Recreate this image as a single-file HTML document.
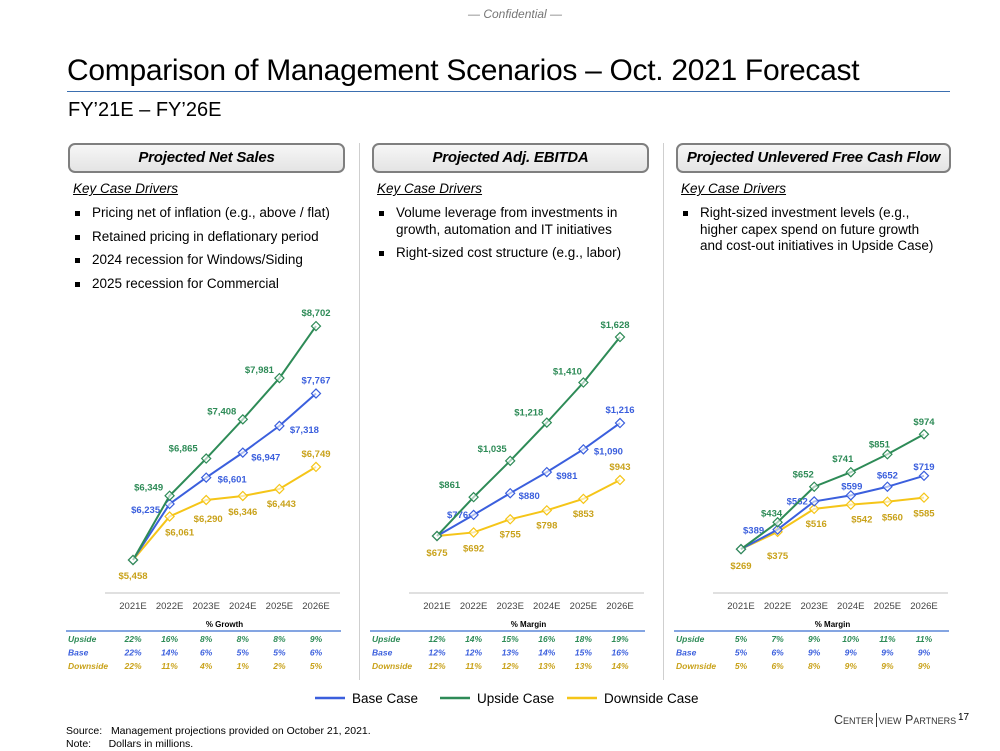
<!DOCTYPE html>
<html><head><meta charset="utf-8">
<style>
*{margin:0;padding:0;box-sizing:border-box}
body{width:1000px;height:750px;background:#fff;position:relative;overflow:hidden;font-family:"Liberation Sans",sans-serif;color:#000}
.abs{position:absolute}
.hdr{position:absolute;top:143px;height:30px;border:2px solid #7f7f7f;border-radius:7px;background:linear-gradient(#f6f6f6,#e4e4e4);font-weight:bold;font-style:italic;font-size:15px;text-align:center;line-height:26px;white-space:nowrap;letter-spacing:-0.2px}
.kcd{position:absolute;top:181px;font-size:13.5px;font-style:italic;text-decoration:underline}
ul{position:absolute;list-style:none;font-size:13.5px;line-height:16.5px}
ul li{position:relative;padding-left:19px;margin-bottom:7px}
ul li:before{content:"";position:absolute;left:2px;top:6px;width:5px;height:5px;background:#000}
.div{position:absolute;top:143px;width:1px;height:537px;background:#cfcfcf}
</style></head><body>
<div class="abs" style="left:468px;top:7px;font-size:12px;font-style:italic;color:#777">— Confidential —</div>
<div class="abs" style="left:67px;top:54px;font-size:30px;letter-spacing:-0.3px">Comparison of Management Scenarios – Oct. 2021 Forecast</div>
<div class="abs" style="left:67px;top:91px;width:883px;height:1px;background:#3b6fb0"></div>
<div class="abs" style="left:68px;top:99px;font-size:20px">FY’21E – FY’26E</div>

<div class="hdr" style="left:68px;width:277px">Projected Net Sales</div>
<div class="hdr" style="left:372px;width:277px">Projected Adj. EBITDA</div>
<div class="hdr" style="left:676px;width:275px">Projected Unlevered Free Cash Flow</div>
<div class="div" style="left:359px"></div>
<div class="div" style="left:663px"></div>

<div class="kcd" style="left:73px">Key Case Drivers</div>
<ul style="left:73px;top:205px;width:285px">
<li>Pricing net of inflation (e.g., above / flat)</li>
<li>Retained pricing in deflationary period</li>
<li>2024 recession for Windows/Siding</li>
<li>2025 recession for Commercial</li></ul>
<div class="kcd" style="left:377px">Key Case Drivers</div>
<ul style="left:377px;top:205px;width:270px">
<li>Volume leverage from investments in growth, automation and IT initiatives</li>
<li>Right-sized cost structure (e.g., labor)</li></ul>
<div class="kcd" style="left:681px">Key Case Drivers</div>
<ul style="left:681px;top:205px;width:262px">
<li>Right-sized investment levels (e.g., higher capex spend on future growth and cost-out initiatives in Upside Case)</li></ul>

<svg id="charts" class="abs" style="left:0;top:0" width="1000" height="750"></svg>

<div class="abs" style="left:66px;top:725px;font-size:10.5px;line-height:13px">Source:&nbsp;&nbsp;&nbsp;Management projections provided on October 21, 2021.<br>Note:&nbsp;&nbsp;&nbsp;&nbsp;&nbsp;&nbsp;Dollars in millions.</div>
<div class="abs" style="left:834px;top:713px;font-size:12.5px;font-variant:small-caps;color:#333;white-space:nowrap">Center<span style="border-left:1.5px solid #333;margin:0 2px"></span>view Partners</div>
<div class="abs" style="left:958px;top:712px;font-size:10px">17</div>

<script>
const years=["2021E","2022E","2023E","2024E","2025E","2026E"];
const salesBase=[5458,6235,6601,6947,7318,7767];
const salesUp=[5458,6349,6865,7408,7981,8702];
const salesDown=[5458,6061,6290,6346,6443,6749];
const ebitdaBase=[675,776,880,981,1090,1216];
const ebitdaUp=[675,861,1035,1218,1410,1628];
const ebitdaDown=[675,692,755,798,853,943];
const fcfBase=[269,389,562,599,652,719];
const fcfUp=[269,434,652,741,851,974];
const fcfDown=[269,375,516,542,560,585];
const growthUp=["22%","16%","8%","8%","8%","9%"];
const growthBase=["22%","14%","6%","5%","5%","6%"];
const growthDown=["22%","11%","4%","1%","2%","5%"];
const ebitdaMarginUp=["12%","14%","15%","16%","18%","19%"];
const ebitdaMarginBase=["12%","12%","13%","14%","15%","16%"];
const ebitdaMarginDown=["12%","11%","12%","13%","13%","14%"];
const fcfMarginUp=["5%","7%","9%","10%","11%","11%"];
const fcfMarginBase=["5%","6%","9%","9%","9%","9%"];
const fcfMarginDown=["5%","6%","8%","9%","9%","9%"];

const C={base:"#3b5fdd",up:"#2e8b57",down:"#f5c518",downTxt:"#c9a21a"};
const svg=document.getElementById('charts');
const NS="http://www.w3.org/2000/svg";
function mk(t,a,p){const e=document.createElementNS(NS,t);for(const k in a)e.setAttribute(k,a[k]);(p||svg).appendChild(e);return e;}
function fmt(v){return "$"+v.toLocaleString("en-US");}

const charts=[
 {name:"net-sales",x0:133,min:5000,ppu:0.0721,base:salesBase,up:salesUp,down:salesDown,title:"% Growth",tu:growthUp,tb:growthBase,td:growthDown,
  offB:[[0,0],[-24,9],[26,5],[23,8],[25,7],[0,-10]],offU:[[0,0],[-21,-5],[-23,-7],[-21,-5],[-20,-5],[0,-10]],offD:[[0,19],[10,19],[2,22],[0,19],[2,18],[0,-10]]},
 {name:"ebitda",x0:437,min:402,ppu:0.2088,base:ebitdaBase,up:ebitdaUp,down:ebitdaDown,title:"% Margin",tu:ebitdaMarginUp,tb:ebitdaMarginBase,td:ebitdaMarginDown,
  offB:[[0,0],[-16,3],[19,6],[20,7],[25,5],[0,-10]],offU:[[0,0],[-24,-9],[-18,-9],[-18,-7],[-16,-8],[-5,-9]],offD:[[0,20],[0,19],[0,18],[0,18],[0,18],[0,-10]]},
 {name:"fcf",x0:741,min:0,ppu:0.163,base:fcfBase,up:fcfUp,down:fcfDown,title:"% Margin",tu:fcfMarginUp,tb:fcfMarginBase,td:fcfMarginDown,
  offB:[[0,0],[-24,4],[-17,3],[1,-6],[0,-8],[0,-6]],offU:[[0,0],[-6,-6],[-11,-9],[-8,-10],[-8,-7],[0,-9]],offD:[[0,20],[0,27],[2,18],[11,18],[5,19],[0,19]]}
];
const step=36.6, yb=593;
charts.forEach((c,ci)=>{
  const X=i=>c.x0+i*step, Y=v=>yb-(v-c.min)*c.ppu;
  const ax=mk('line',{x1:c.x0-28,x2:c.x0+5*step+24,y1:593,y2:593,stroke:"#d6d6d6","stroke-width":1.5});
  
  years.forEach((y,i)=>{const t=mk('text',{x:X(i),y:609,"text-anchor":"middle","font-size":9.5,fill:"#444"});t.textContent=y;
    });
  [["down",c.down,C.down,C.downTxt,c.offD],["base",c.base,C.base,C.base,c.offB],["up",c.up,C.up,C.up,c.offU]].forEach(([k,vals,col,tc,off])=>{
    const pl=mk('polyline',{points:vals.map((v,i)=>X(i)+","+Y(v)).join(" "),fill:"none",stroke:col,"stroke-width":2});
    
    vals.forEach((v,i)=>{
      const d=mk('rect',{x:X(i)-3.2,y:Y(v)-3.2,width:6.4,height:6.4,fill:"#fff","fill-opacity":0.6,stroke:col,"stroke-width":1.2,transform:`rotate(45 ${X(i)} ${Y(v)})`});
      
      if(i===0&&k!=="down")return;
      const t=mk('text',{x:X(i)+off[i][0],y:Y(v)+off[i][1],"text-anchor":"middle","font-size":9.5,"font-weight":"bold",fill:tc});
      t.textContent=fmt(v);
      
    });
  });
  const tx=c.x0-67;
  const h=mk('text',{x:c.x0+2.5*step,y:627,"text-anchor":"middle","font-size":8,"font-weight":"bold"});h.textContent=c.title;
  
  const r=mk('line',{x1:tx,x2:tx+275,y1:631,y2:631,stroke:"#3b6fd0","stroke-width":1.2});
  
  [["Upside",c.tu,C.up],["Base",c.tb,C.base],["Downside",c.td,C.downTxt]].forEach(([lab,arr,col],ri)=>{
    const yy=642+ri*13.5;
    const l=mk('text',{x:tx+2,y:yy,"font-size":8.5,"font-weight":"bold","font-style":"italic",fill:col});l.textContent=lab;
    
    arr.forEach((s,i)=>{const t=mk('text',{x:X(i),y:yy,"text-anchor":"middle","font-size":8.5,"font-weight":"bold","font-style":"italic",fill:col});t.textContent=s;
      });
  });
});
[["Base Case",C.base,315],["Upside Case",C.up,440],["Downside Case",C.down,567]].forEach(([n,col,x])=>{
  const l=mk('line',{x1:x,x2:x+30,y1:698,y2:698,stroke:col,"stroke-width":2.5});
  
  const t=mk('text',{x:x+37,y:703,"font-size":13.5});t.textContent=n;
  
});
</script>
</body></html>
